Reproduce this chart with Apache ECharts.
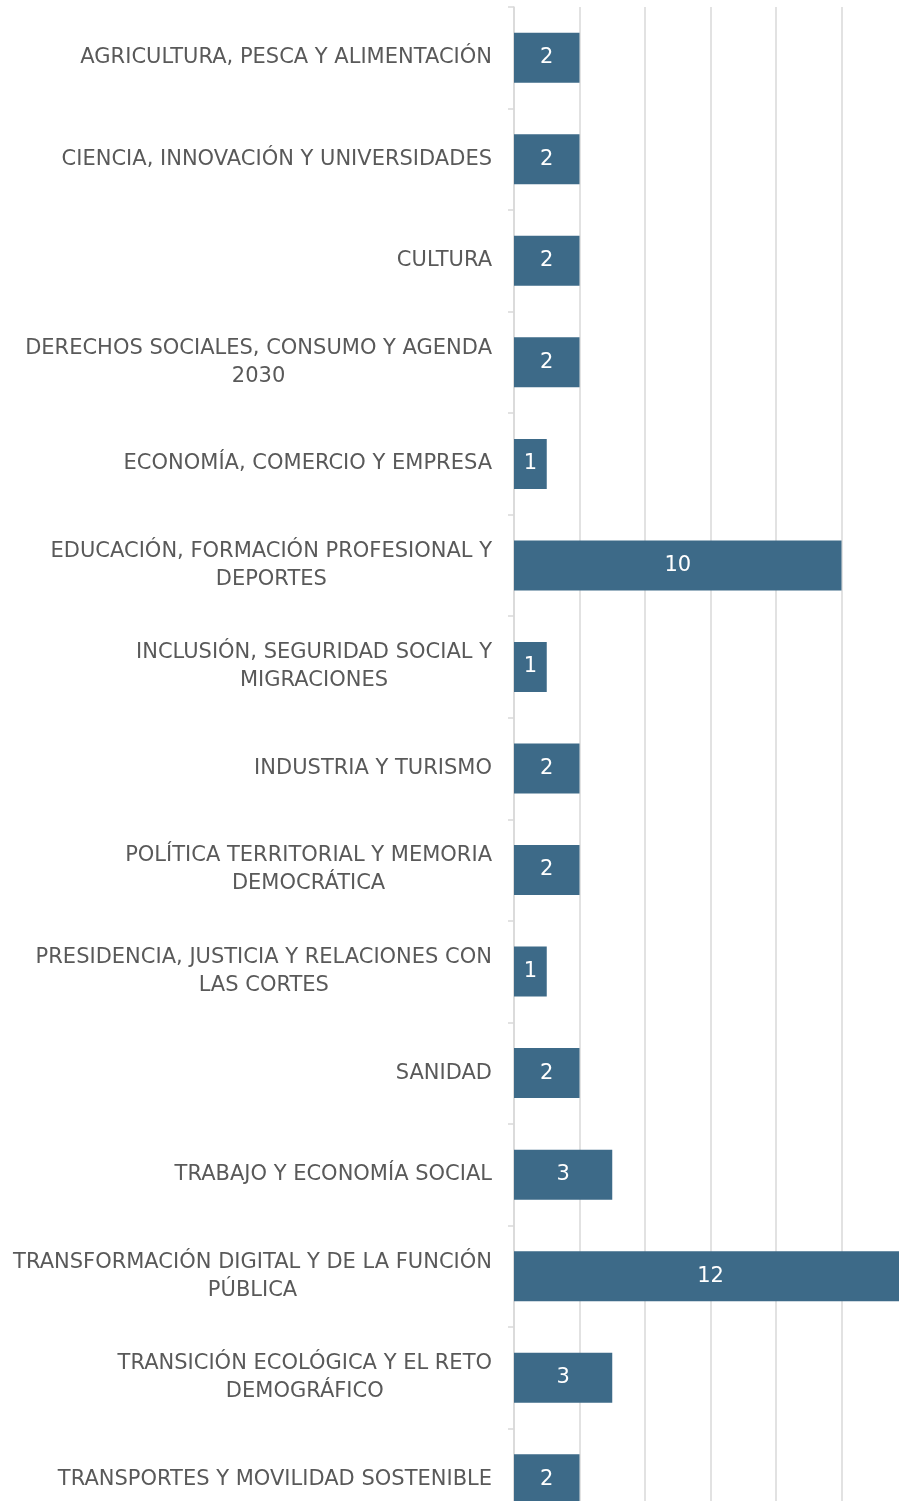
<!DOCTYPE html>
<html>
<head>
<meta charset="utf-8">
<script src="https://cdn.jsdelivr.net/npm/echarts@6/dist/echarts.min.js"></script>
<style>
html,body{margin:0;padding:0;background:#fff;}
#chart{width:899px;height:1501px;}
</style>
</head>
<body>
<div id="chart"></div>
<script>
const categories = [
  'AGRICULTURA, PESCA Y ALIMENTACIÓN',
  'CIENCIA, INNOVACIÓN Y UNIVERSIDADES',
  'CULTURA',
  'DERECHOS SOCIALES, CONSUMO Y AGENDA\n2030',
  'ECONOMÍA, COMERCIO Y EMPRESA',
  'EDUCACIÓN, FORMACIÓN PROFESIONAL Y\nDEPORTES',
  'INCLUSIÓN, SEGURIDAD SOCIAL Y\nMIGRACIONES',
  'INDUSTRIA Y TURISMO',
  'POLÍTICA TERRITORIAL Y MEMORIA\nDEMOCRÁTICA',
  'PRESIDENCIA, JUSTICIA Y RELACIONES CON\nLAS CORTES',
  'SANIDAD',
  'TRABAJO Y ECONOMÍA SOCIAL',
  'TRANSFORMACIÓN DIGITAL Y DE LA FUNCIÓN\nPÚBLICA',
  'TRANSICIÓN ECOLÓGICA Y EL RETO\nDEMOGRÁFICO',
  'TRANSPORTES Y MOVILIDAD SOSTENIBLE'
];
const values = [2, 2, 2, 2, 1, 10, 1, 2, 2, 1, 2, 3, 12, 3, 2];
const axisMin = 0, axisMax = 12, axisStep = 2;

const chart = echarts.init(document.getElementById('chart'));
const FONT = '"DejaVu Sans", sans-serif';
chart.setOption({
  animation: false,
  grid: { left: 514, top: 7, width: 393, height: 1523, outerBoundsMode: 'none', containLabel: false },
  xAxis: {
    type: 'value', min: axisMin, max: axisMax, interval: axisStep,
    axisLine: { show: false }, axisTick: { show: false },
    axisLabel: { show: false },
    splitLine: { show: true, lineStyle: { color: '#d9d9d9', width: 1.5 } }
  },
  yAxis: {
    type: 'category', data: categories, inverse: true,
    axisLine: { show: true, lineStyle: { color: '#d9d9d9', width: 1.5 } },
    axisTick: { show: true, length: 6, lineStyle: { color: '#d9d9d9', width: 1.5 } },
    axisLabel: {
      margin: 22, color: '#595959', fontSize: 21, fontFamily: FONT,
      formatter: function (v) {
        return v.split('\n').map(function (s) { return '{c|' + s + '}'; }).join('\n');
      },
      rich: {
        c: { align: 'center', color: '#595959', fontSize: 21, fontFamily: FONT, lineHeight: 28 }
      }
    }
  },
  series: [{
    type: 'bar', data: values, barWidth: 50,
    itemStyle: { color: '#3d6a88' },
    label: { show: true, position: 'inside', color: '#ffffff', fontSize: 21, fontFamily: FONT }
  }]
});
</script>
</body>
</html>
